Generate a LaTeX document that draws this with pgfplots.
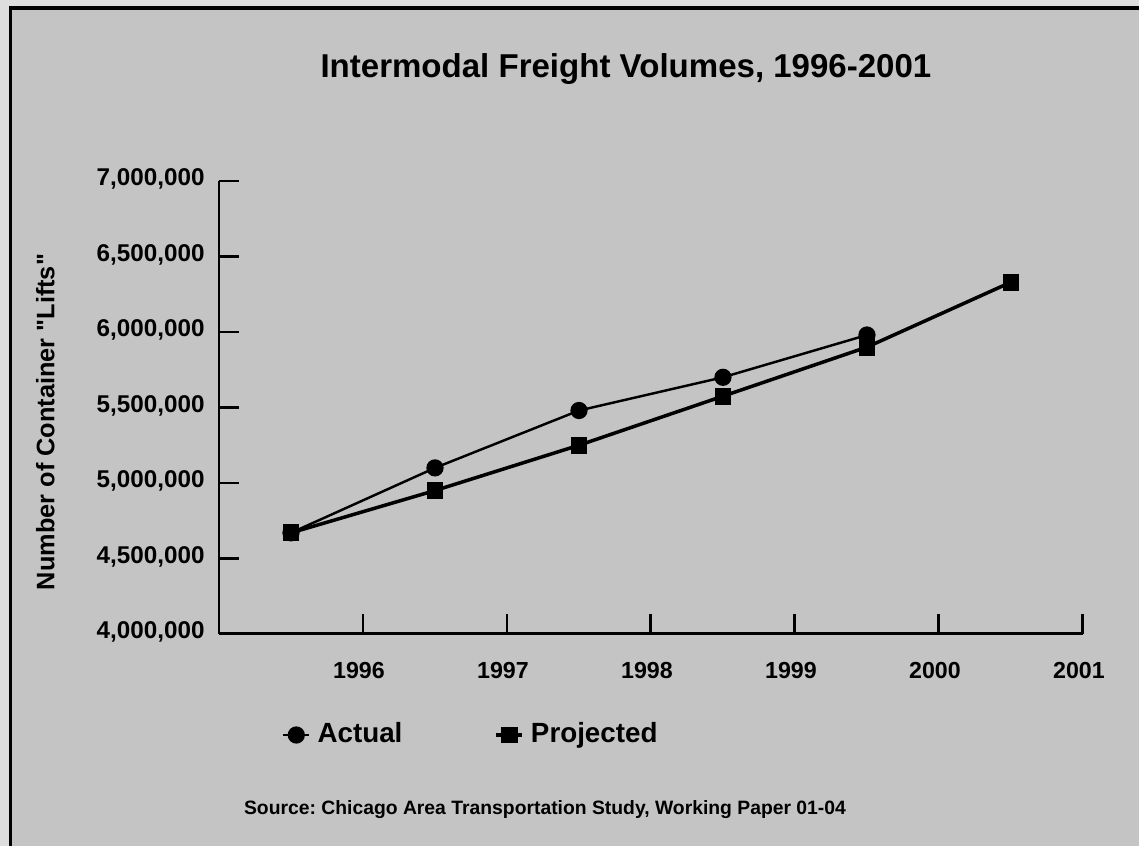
\documentclass[border=0pt]{standalone}
\usepackage{fontspec}
\setmainfont{Liberation Sans}[Ligatures=TeXOff]
\usepackage{pgfplots}
\pgfplotsset{compat=1.18}
\definecolor{bgray}{HTML}{C4C4C4}
\definecolor{mgray}{HTML}{DEDEDE}
\frenchspacing
\begin{document}
\begin{tikzpicture}
\useasboundingbox (0,0) rectangle (11.39,8.46);
\fill[mgray] (0,0) rectangle (11.39,8.46);
\fill[bgray] (0.11,0) rectangle (11.39,8.38);
\draw[black,line width=0.035cm] (0.105,0) -- (0.105,8.38) -- (11.39,8.38);
\begin{axis}[
  at={(2.19cm,2.12cm)}, anchor=south west,
  scale only axis, width=8.64cm, height=4.53cm,
  xmin=0, xmax=6, ymin=4000000, ymax=7000000,
  scaled y ticks=false,
  axis lines*=left, axis line style={-, line width=0.85pt},
  tick align=inside,
  xtick={1,2,3,4,5,6},
  xticklabels={1996,1997,1998,1999,2000,2001},
  ytick={4000000,4500000,5000000,5500000,6000000,6500000,7000000},
  yticklabels={{4,000,000},{4,500,000},{5,000,000},{5,500,000},{6,000,000},{6,500,000},{7,000,000}},
  xtick pos=left, ytick pos=left,
  major tick length=0.2cm,
  tick style={black, line width=0.85pt},
  xticklabel style={font=\fontsize{6.6}{8}\selectfont\bfseries, anchor=north, yshift=-0.16cm, xshift=-0.04cm},
  yticklabel style={font=\fontsize{6.9}{8}\selectfont\bfseries, anchor=east, xshift=-0.02cm, yshift=0.02cm},
  /pgf/number format/assume math mode=true,
  title={Intermodal Freight Volumes, 1996-2001},
  title style={at={(axis description cs:0.471,1.201)}, anchor=center, font=\fontsize{9.4}{11}\selectfont\bfseries},
  ylabel={Number of Container "Lifts"},
  every axis y label/.style={at={(axis description cs:-0.201,0.468)}, rotate=90, anchor=center, font=\fontsize{7.2}{8}\selectfont\bfseries},
  legend columns=2,
  legend style={at={(axis description cs:0.06,-0.223)}, anchor=west, draw=none, fill=none,
    font=\fontsize{7.9}{9}\selectfont\bfseries,
    /tikz/every even column/.append style={column sep=0.85cm}},
  legend image code/.code={\draw[#1] (0cm,0cm) -- (0.26cm,0cm); \draw[#1] plot coordinates {(0.13cm,0cm)};},
  clip=false,
]
\addplot[black, line width=0.7pt, mark=*, mark size=2.1pt, mark options={solid,fill=black}]
  coordinates {(0.5,4670000) (1.5,5100000) (2.5,5480000) (3.5,5700000) (4.5,5980000)};
\addlegendentry{Actual}
\addplot[black, line width=1pt, mark=square*, mark size=1.9pt, mark options={solid,fill=black}]
  coordinates {(0.5,4670000) (1.5,4950000) (2.5,5250000) (3.5,5575000) (4.5,5900000) (5.5,6330000)};
\addlegendentry{Projected}
\end{axis}
\node[font=\fontsize{5.5}{6}\selectfont\bfseries, anchor=center] at (5.45,0.36) {Source: Chicago Area Transportation Study, Working Paper 01-04};
\end{tikzpicture}
\end{document}
